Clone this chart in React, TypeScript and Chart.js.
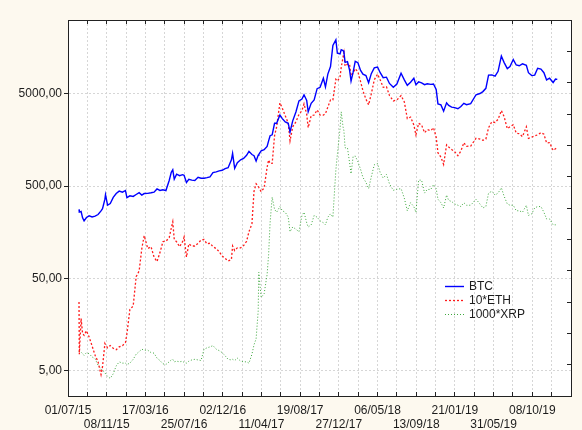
import React, { useEffect, useRef } from 'react';
import { Chart, registerables } from 'chart.js';
Chart.register(...registerables);

// Observation dates (shared by all three series)
const dates = [
  '2015-08-07','2015-08-08','2015-08-14','2015-08-19','2015-08-24','2015-09-01','2015-09-10','2015-09-20','2015-09-30','2015-10-10','2015-10-20','2015-10-25','2015-11-02','2015-11-04','2015-11-11','2015-11-20','2015-11-30','2015-12-10','2015-12-20','2015-12-31',
  '2016-01-10','2016-01-15','2016-01-25','2016-02-05','2016-02-15','2016-02-25','2016-03-05','2016-03-13','2016-03-25','2016-04-05','2016-04-15','2016-04-25','2016-05-05','2016-05-15','2016-05-25','2016-06-05','2016-06-12','2016-06-17','2016-06-22','2016-06-30','2016-07-10','2016-07-20','2016-07-25','2016-08-02','2016-08-10','2016-08-20','2016-08-30','2016-09-10','2016-09-20','2016-09-30','2016-10-10','2016-10-20','2016-10-30','2016-11-10','2016-11-20','2016-11-30','2016-12-10','2016-12-20','2016-12-31',
  '2017-01-04','2017-01-11','2017-01-20','2017-01-31','2017-02-10','2017-02-20','2017-02-28','2017-03-10','2017-03-17','2017-03-24','2017-03-31','2017-04-02','2017-04-10','2017-04-20','2017-04-30','2017-05-05','2017-05-10','2017-05-17','2017-05-25','2017-06-01','2017-06-12','2017-06-20','2017-06-30','2017-07-10','2017-07-16','2017-07-25','2017-08-05','2017-08-15','2017-08-25','2017-09-01','2017-09-10','2017-09-15','2017-09-25','2017-10-05','2017-10-15','2017-10-25','2017-11-05','2017-11-12','2017-11-20','2017-11-29','2017-12-07','2017-12-17','2017-12-22','2017-12-31',
  '2018-01-04','2018-01-10','2018-01-13','2018-01-17','2018-01-25','2018-02-01','2018-02-06','2018-02-13','2018-02-20','2018-03-01','2018-03-10','2018-03-18','2018-03-28','2018-04-06','2018-04-15','2018-04-25','2018-05-06','2018-05-15','2018-05-25','2018-06-05','2018-06-15','2018-06-28','2018-07-10','2018-07-24','2018-08-04','2018-08-14','2018-08-25','2018-09-05','2018-09-12','2018-09-21','2018-10-01','2018-10-11','2018-10-20','2018-11-01','2018-11-10','2018-11-19','2018-11-25','2018-12-05','2018-12-14','2018-12-24','2018-12-31',
  '2019-01-10','2019-01-20','2019-01-31','2019-02-10','2019-02-20','2019-03-01','2019-03-15','2019-04-02','2019-04-15','2019-04-25','2019-05-05','2019-05-14','2019-05-25','2019-06-05','2019-06-15','2019-06-26','2019-07-05','2019-07-16','2019-07-25','2019-08-05','2019-08-15','2019-08-25','2019-09-05','2019-09-18','2019-09-25','2019-10-06','2019-10-16','2019-10-26','2019-11-06','2019-11-16','2019-11-25','2019-12-05','2019-12-17','2019-12-25','2019-12-31',
];

const btc = [
  279,261,265,226,210,228,238,231,236,246,269,285,361,403,311,323,377,415,441,430,
  448,375,392,386,405,424,400,415,417,423,430,466,448,456,447,575,705,750,595,673,648,665,655,547,591,580,575,622,608,608,617,630,700,714,731,742,775,792,964,
  1130,777,895,965,998,1078,1190,1100,1070,937,1080,1100,1210,1240,1350,1550,1760,1800,2400,2400,2950,2700,2480,2400,1930,2550,3200,4200,4400,4890,4250,3200,3950,4300,5700,5900,7400,5950,8200,9900,16800,19300,13800,13600,
  15100,14800,14200,11000,11200,9100,6900,8600,11300,10900,9000,8200,7900,6600,8300,9600,9800,8500,7500,7600,6500,5900,6400,8400,7100,6200,6700,7400,6300,6750,6600,6300,6450,6350,6400,5600,3900,3800,3250,4000,3750,
  3600,3550,3450,3650,3950,3820,3920,4900,5050,5300,5750,8000,8050,7800,8800,12900,11000,9400,9900,11800,10300,10100,10600,10200,8500,7900,8000,9500,9300,8500,7100,7400,6650,7250,7200,
];

const eth = [
  2.77,0.75,1.83,1.26,1.2,1.35,1.15,0.92,0.73,0.62,0.45,0.55,0.98,0.95,0.88,0.93,0.87,0.84,0.9,0.93,
  1.0,1.25,2.3,2.5,5.2,6.0,10.5,14.5,10.5,11.0,8.5,7.6,9.5,12.5,12.6,13.8,17.5,20.5,13.2,12.4,11.0,12.5,14.0,8.5,11.8,11.2,11.2,12.0,13.0,13.2,11.8,12.0,11.0,10.5,9.7,8.7,8.2,7.7,8.0,
  11.2,10.0,10.7,10.7,11.3,12.6,16.0,19.5,44,53,50,48.5,43.5,48,80,96,88,88,176,220,400,350,290,240,155,220,250,300,330,390,300,215,290,295,335,295,295,305,360,430,430,720,690,760,
  970,1250,1400,1000,1050,1050,790,840,940,870,680,540,440,380,500,710,820,710,590,600,480,420,430,480,410,270,280,230,180,240,230,190,205,200,215,170,115,103,86,140,133,
  125,118,107,120,148,135,136,165,162,157,162,215,250,245,265,330,285,210,220,232,188,185,172,220,165,170,175,180,190,183,147,148,122,127,130,
];

const xrp = [
  0.0081,0.008,0.0079,0.0076,0.0073,0.0078,0.0076,0.007,0.0067,0.0057,0.0052,0.005,0.0048,0.0046,0.0043,0.0041,0.0046,0.0056,0.0062,0.006,
  0.006,0.0058,0.006,0.0066,0.0075,0.008,0.0085,0.0083,0.0083,0.0078,0.0077,0.0068,0.0064,0.0059,0.0058,0.0062,0.0065,0.0066,0.0062,0.0063,0.0062,0.0063,0.0061,0.006,0.0063,0.0065,0.0066,0.0065,0.0064,0.0085,0.0088,0.009,0.0093,0.0085,0.0082,0.0078,0.0072,0.0066,0.0065,
  0.0066,0.0064,0.0068,0.0063,0.0062,0.0062,0.006,0.0075,0.0095,0.011,0.022,0.058,0.031,0.034,0.055,0.09,0.2,0.38,0.28,0.26,0.3,0.27,0.26,0.23,0.16,0.18,0.17,0.16,0.24,0.26,0.2,0.18,0.19,0.24,0.23,0.21,0.2,0.19,0.23,0.25,0.23,0.75,1.1,2.1,
  3.2,2.2,2.0,1.3,1.3,0.9,0.68,1.05,1.06,0.92,0.76,0.62,0.55,0.47,0.63,0.85,0.88,0.7,0.61,0.67,0.53,0.45,0.46,0.47,0.37,0.27,0.33,0.3,0.26,0.58,0.58,0.42,0.46,0.46,0.52,0.47,0.36,0.33,0.29,0.4,0.35,
  0.34,0.32,0.31,0.3,0.33,0.31,0.31,0.36,0.32,0.29,0.3,0.42,0.44,0.4,0.42,0.48,0.39,0.32,0.31,0.31,0.27,0.27,0.26,0.31,0.24,0.25,0.29,0.3,0.3,0.26,0.22,0.22,0.19,0.19,0.19,
];

const seriesLabels = ['BTC', '10*ETH', '1000*XRP'];
const yTickValues = [5, 50, 500, 5000];
const axisStartDate = '2015-07-01';
const axisStepDays = 65; // grid step; labels every second step (130 days)
const axisSteps = 26;
const labelledSteps = 24;
const yMin = 2.64;
const yMax = 31700;

const DAY = 86400000;
const t0 = Date.parse(axisStartDate + 'T00:00:00Z');
const dayIndex = (d: string) => (Date.parse(d + 'T00:00:00Z') - t0) / DAY;
const fmtDate = (days: number) => {
  const d = new Date(t0 + days * DAY);
  const p = (n: number) => String(n).padStart(2, '0');
  return `${p(d.getUTCDate())}/${p(d.getUTCMonth() + 1)}/${p(d.getUTCFullYear() % 100)}`;
};

const FONT = "Arial, 'Liberation Sans', sans-serif";
const TEXT = '#1c1c1c';
const GRID = '#d6d6d6';
const AXIS = '#222222';

const plotBg = {
  id: 'plotBg',
  beforeDraw(chart: any) {
    const { ctx, chartArea: a } = chart;
    ctx.save();
    ctx.fillStyle = '#ffffff';
    ctx.fillRect(a.left, a.top, a.right - a.left, a.bottom - a.top);
    ctx.restore();
  },
};

const innerLegend = {
  id: 'innerLegend',
  afterDraw(chart: any) {
    const { ctx, chartArea: a } = chart;
    ctx.save();
    ctx.font = `12px ${FONT}`;
    ctx.textBaseline = 'middle';
    chart.data.datasets.forEach((ds: any, i: number) => {
      const y = a.top + 266 + i * 14;
      ctx.strokeStyle = ds.borderColor;
      ctx.lineWidth = ds.borderWidth;
      ctx.setLineDash(ds.borderDash || []);
      ctx.beginPath();
      ctx.moveTo(a.left + 377, y + 0.5);
      ctx.lineTo(a.left + 396, y + 0.5);
      ctx.stroke();
      ctx.setLineDash([]);
      ctx.fillStyle = TEXT;
      ctx.fillText(ds.label, a.left + 401, y + 1);
    });
    ctx.restore();
  },
};

const xTickValues = Array.from({ length: axisSteps + 1 }, (_, k) => k * axisStepDays);

export default function App() {
  const ref = useRef<HTMLCanvasElement>(null);
  useEffect(() => {
    document.body.style.margin = '0';
    document.body.style.background = '#fdf9ef';
    const xs = dates.map(dayIndex);
    const mk = (vals: number[], f: number) => vals.map((v, i) => ({ x: xs[i], y: v * f }));
    const setX = (s: any) => { s.ticks = xTickValues.map((v) => ({ value: v })); };
    const chart = new Chart(ref.current!, {
      type: 'line',
      data: {
        datasets: [
          { label: seriesLabels[0], data: mk(btc, 1), borderColor: '#0000ff', borderWidth: 1.4, pointRadius: 0, tension: 0 },
          { label: seriesLabels[1], data: mk(eth, 10), borderColor: '#ff1a1a', borderWidth: 1.3, borderDash: [2, 2], pointRadius: 0, tension: 0 },
          { label: seriesLabels[2], data: mk(xrp, 1000), borderColor: '#3da83d', borderWidth: 1, borderDash: [1, 2], pointRadius: 0, tension: 0 },
        ],
      },
      options: {
        animation: false,
        responsive: false,
        devicePixelRatio: 1,
        layout: { padding: 0 },
        plugins: { legend: { display: false }, tooltip: { enabled: false } },
        scales: {
          x: {
            type: 'linear', position: 'bottom', min: 0, max: axisSteps * axisStepDays,
            afterBuildTicks: setX,
            afterFit: (s: any) => { s.height = 34; },
            grid: { color: GRID, tickLength: -4, tickColor: AXIS, tickWidth: 1 },
            border: { color: AXIS, width: 1, dash: [2, 2] },
            ticks: {
              autoSkip: false, maxRotation: 0, minRotation: 0, padding: 11, color: TEXT,
              font: { family: FONT, size: 12 }, lineHeight: 1.1,
              callback: (v: any) => {
                const k = Math.round(Number(v) / axisStepDays);
                if (k % 2 === 1 || k > labelledSteps) return '';
                const s = fmtDate(Number(v));
                return (k / 2) % 2 === 0 ? [s, ' '] : [' ', s];
              },
            },
          },
          xTop: {
            type: 'linear', position: 'top', min: 0, max: axisSteps * axisStepDays,
            afterBuildTicks: setX,
            afterFit: (s: any) => { s.height = 20; },
            grid: { drawOnChartArea: false, tickLength: -4, tickColor: AXIS },
            border: { color: AXIS, width: 1 },
            ticks: { display: false },
          },
          y: {
            type: 'logarithmic', position: 'left', min: yMin, max: yMax,
            afterBuildTicks: (s: any) => { s.ticks = yTickValues.map((v) => ({ value: v })); },
            afterFit: (s: any) => { s.width = 68; },
            grid: { color: GRID, tickLength: 4, tickColor: AXIS },
            border: { color: AXIS, width: 1, dash: [2, 2] },
            ticks: {
              padding: 2, color: TEXT, font: { family: FONT, size: 12 },
              callback: (v: any) => Number(v).toFixed(2).replace('.', ','),
            },
          },
          yR: {
            type: 'linear', position: 'right', min: 0, max: 12,
            afterBuildTicks: (s: any) => { s.ticks = Array.from({ length: 13 }, (_, i) => ({ value: i })); },
            afterFit: (s: any) => { s.width = 2; },
            grid: { drawOnChartArea: false, tickLength: -4, tickColor: AXIS },
            border: { color: AXIS, width: 1 },
            ticks: { display: false },
          },
        },
      },
      plugins: [plotBg, innerLegend],
    });
    return () => chart.destroy();
  }, []);
  return (
    <div style={{ width: 582, height: 430, background: '#fdf9ef' }}>
      <canvas ref={ref} width={582} height={430} style={{ display: 'block' }} />
    </div>
  );
}
